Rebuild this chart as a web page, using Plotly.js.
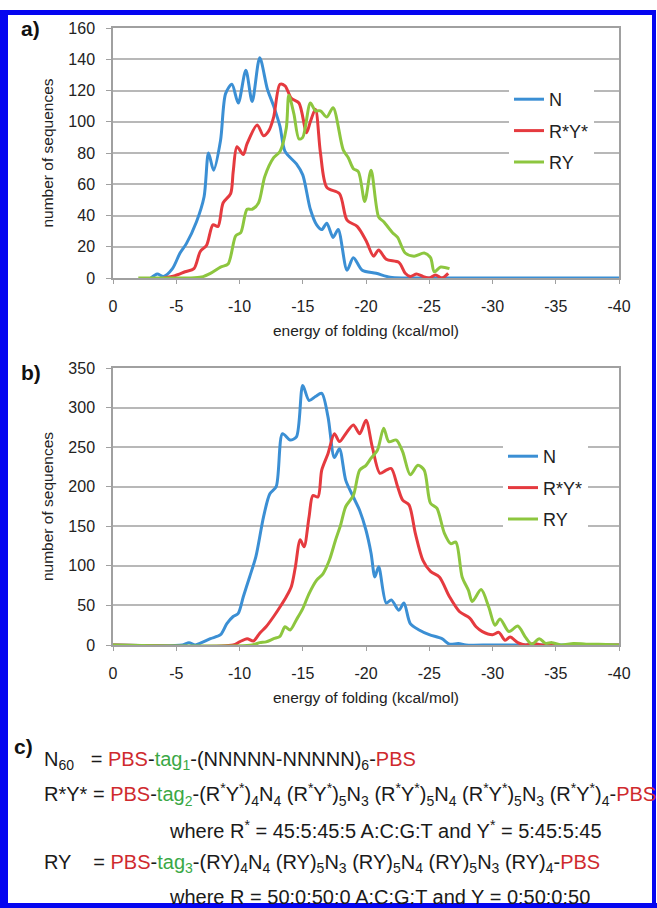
<!DOCTYPE html>
<html><head><meta charset="utf-8">
<script src="https://cdn.plot.ly/plotly-3.0.1.min.js"></script>
<style>html,body{margin:0;padding:0;background:#fff}#chart{width:657px;height:908px}</style>
</head><body><div id="chart"></div>
<script>
// ---- Panel a data (energy kcal/mol, number of sequences) ----
const aN_x = [-3,-3.5,-4,-4.7,-5.3,-5.8,-6.6,-7.2,-7.55,-7.95,-8.5,-8.9,-9.4,-9.9,-10.5,-11,-11.6,-12.2,-12.7,-13.2,-13.6,-14.5,-15,-15.6,-16.1,-16.5,-16.9,-17.4,-17.8,-18.5,-19,-19.7,-20.8,-21.9,-23,-25,-30,-35,-40];
const aN_y = [0,2.5,1,6,16,22,36,52,80,69,88,118,124,112,133,113,141,121,110,97,81,73,66,44,34,31,35,26,31,5,13,5,3,0.5,0,0,0,0,0];
const aR_x = [-4,-4.9,-5.7,-6.4,-6.9,-7.4,-7.9,-8.3,-8.7,-9.3,-9.5,-9.8,-10.3,-10.6,-11.4,-11.9,-12.3,-12.7,-13.2,-13.6,-14.1,-14.7,-15.3,-15.6,-16.0,-16.4,-16.9,-17.9,-18.5,-19.3,-20,-20.6,-21,-21.6,-22.6,-23.1,-23.5,-24,-24.5,-25,-25.5,-26,-26.5];
const aR_y = [0,1.5,4,6,17,21,34,33,48,54,68,84,79,86,98,91,94,103,124,123,115,112,93,100,108,80,58,54,37,33,24,14,18,12,10,3,1,2.5,1,0,2,0,3];
const aG_x = [-2,-4,-6,-7,-7.7,-8.5,-9.1,-9.7,-10.1,-10.6,-11,-11.5,-12,-12.7,-13.2,-13.7,-13.9,-14.3,-14.7,-15,-15.6,-16,-16.4,-16.9,-17.4,-18.2,-18.6,-19,-19.4,-19.9,-20.4,-21,-21.4,-22.1,-22.5,-23.1,-23.8,-24.6,-25.1,-25.4,-25.9,-26.6];
const aG_y = [0,0,0,0.6,3,7,9,27,29,44,44,48,65,77,81,96,117,105,89,90,112,107,107,103,109,82,77,70,68,49,69,39,36,29,26,16,14,16,13,4,7,6];

// ---- Panel b data ----
const bN_x = [0,-5.5,-6,-6.5,-7,-7.7,-8.5,-9,-9.5,-9.9,-10.3,-10.8,-11.3,-11.9,-12.4,-12.9,-13.4,-14,-14.5,-15,-15.5,-16,-16.5,-17,-17.5,-17.9,-18.4,-19,-19.5,-20,-20.4,-20.7,-21,-21.6,-22,-22.6,-23,-23.5,-24.2,-25,-26,-26.6,-27.3,-27.9,-30,-35,-40];
const bN_y = [0,0,3,0,3,8,13,27,36,40,61,86,112,162,191,200,267,259,263,328,309,314,318,288,237,248,208,187,170,145,116,86,99,53,57,44,53,27,19,13,8,1,2,0,0,0,0];
const bR_x = [0,-9.5,-10,-10.6,-11.1,-11.6,-12.1,-12.7,-13.2,-13.7,-14.1,-14.4,-14.8,-15.1,-15.5,-15.8,-16.2,-16.5,-17,-17.5,-17.9,-18.4,-19,-19.5,-20,-20.5,-21.1,-21.6,-22,-22.5,-22.9,-23.4,-23.9,-24.5,-25.1,-25.8,-26.6,-27.4,-28.2,-28.7,-29.2,-30,-30.5,-31,-31.4,-32,-32.6,-33.3,-33.9,-40];
const bR_y = [0,0,4,8,5,15,23,36,48,61,74,97,133,124,162,189,187,221,242,267,257,267,278,267,284,250,217,221,223,200,183,177,141,107,93,86,61,42,34,23,17,13,16,6,10,3,0,2,0,0];
const bG_x = [0,-11,-11.6,-12.1,-12.7,-13.2,-13.6,-14,-14.5,-15,-15.5,-16.1,-16.6,-17.1,-17.6,-18,-18.4,-19,-19.5,-20,-20.4,-20.9,-21.4,-21.8,-22.4,-22.9,-23.5,-24.1,-24.6,-25.1,-25.6,-26.2,-26.7,-27.1,-27.6,-28.1,-28.4,-29.1,-29.7,-30.2,-30.6,-31.3,-32,-32.6,-33.1,-33.7,-34.2,-34.7,-35.4,-36.4,-37.4,-38.4,-40];
const bG_y = [0,0,3,4,8,11,23,19,32,46,65,82,90,107,133,152,175,189,221,227,236,246,274,257,259,244,215,227,221,179,173,141,128,130,86,69,55,70,48,25,33,17,24,10,1,8,2,3,0,2,1,1,0];

const seriesNames = ['N', 'R*Y*', 'RY'];
const colors = ['#3b8fd4', '#e53a3f', '#8dc63f'];
const xTickVals = [0,-5,-10,-15,-20,-25,-30,-35,-40];
const xTickText = ['0','-5','-10','-15','-20','-25','-30','-35','-40'];
const xTitle = 'energy of folding (kcal/mol)';
const yTitle = 'number of sequences';

const W = 657, H = 908;
const px = x => x / W, py = y => 1 - y / H;
const FONT = 'Liberation Sans, Arial, sans-serif';

function mk(x, y, i, xa, ya, leg) {
  return {x, y, type: 'scatter', mode: 'lines', name: seriesNames[i],
    xaxis: xa, yaxis: ya, legend: leg, legendgroup: leg + i,
    line: {color: colors[i], width: 3, shape: 'spline', smoothing: 0.8},
    hoverinfo: 'x+y'};
}
const data = [
  mk(aN_x, aN_y, 0, 'x', 'y', 'legend'),
  mk(aR_x, aR_y, 1, 'x', 'y', 'legend'),
  mk(aG_x, aG_y, 2, 'x', 'y', 'legend'),
  mk(bN_x, bN_y, 0, 'x2', 'y2', 'legend2'),
  mk(bR_x, bR_y, 1, 'x2', 'y2', 'legend2'),
  mk(bG_x, bG_y, 2, 'x2', 'y2', 'legend2')
];

function xax(anchor) {
  return {domain: [px(113), px(619)], range: [0, -40], anchor,
    tickmode: 'array', tickvals: xTickVals, ticktext: xTickText,
    ticks: 'outside', ticklen: 4, tickcolor: '#a0a0a0',
    showline: true, linecolor: '#a0a0a0', linewidth: 1.5, mirror: true,
    showgrid: false, zeroline: false, ticklabelstandoff: 9,
    tickfont: {size: 16, color: '#222', family: FONT},
    title: {text: xTitle, font: {size: 15.5, color: '#222', family: FONT}, standoff: 11}};
}
function yax(anchor, dom, max, dt) {
  return {domain: dom, range: [0, max], dtick: dt, anchor,
    ticks: 'outside', ticklen: 5, tickcolor: '#a0a0a0',
    showline: true, linecolor: '#a0a0a0', linewidth: 1.5, mirror: true,
    showgrid: true, gridcolor: '#b8b8b8', gridwidth: 1.5, zeroline: false,
    ticklabelstandoff: 8,
    tickfont: {size: 16, color: '#222', family: FONT},
    title: {text: yTitle, font: {size: 15.5, color: '#222', family: FONT}, standoff: 11}};
}
function leg(x, y) {
  return {x, y, xanchor: 'left', yanchor: 'top', bgcolor: '#ffffff',
    font: {size: 18, color: '#222', family: FONT}, tracegroupgap: 5,
    itemclick: false};
}

const BLUE = '#0505f0';
const layout = {
  width: W, height: H, margin: {l: 0, r: 0, t: 0, b: 0},
  paper_bgcolor: '#ffffff', plot_bgcolor: '#ffffff', showlegend: true,
  font: {family: FONT},
  xaxis: xax('y'),
  yaxis: yax('x', [py(278), py(28)], 160, 20),
  xaxis2: xax('y2'),
  yaxis2: yax('x2', [py(645), py(368)], 350, 50),
  legend: leg(px(509), py(81)),
  legend2: leg(px(503), py(438)),
  shapes: [
    {type: 'line', xref: 'paper', yref: 'paper', x0: px(4), x1: px(4), y0: py(10), y1: py(908), line: {color: BLUE, width: 8}},
    {type: 'line', xref: 'paper', yref: 'paper', x0: px(0), x1: px(656), y0: py(12.5), y1: py(12.5), line: {color: BLUE, width: 5}},
    {type: 'line', xref: 'paper', yref: 'paper', x0: px(654), x1: px(654), y0: py(10), y1: py(908), line: {color: BLUE, width: 4}},
    {type: 'line', xref: 'paper', yref: 'paper', x0: px(0), x1: px(657), y0: py(905.5), y1: py(905.5), line: {color: BLUE, width: 5}}
  ],
  annotations: []
};

const RED = '#cf2a2e', GRN = '#3aa845';
const panelLabels = [['a)', 30, 29], ['b)', 31, 372], ['c)', 23, 746]];
panelLabels.forEach(([t, x, y]) => layout.annotations.push({
  text: '<b>' + t + '</b>', xref: 'paper', yref: 'paper', x: px(x), y: py(y),
  xanchor: 'center', yanchor: 'middle', showarrow: false,
  font: {size: 21, color: '#111', family: FONT}}));

const CF = 'Liberation Sans, Arial, sans-serif';
const r = s => '<span style="color:' + RED + '">' + s + '</span>';
const g = s => '<span style="color:' + GRN + '">' + s + '</span>';
const st = '<sup>*</sup>';
const rys = '(R' + st + 'Y' + st + ')';
const textLines = [
  ['N<sub>60</sub>   = ' + r('PBS') + '-' + g('tag<sub>1</sub>') + '-(NNNNN-NNNNN)<sub>6</sub>-' + r('PBS'), 42, 760],
  ['R*Y* = ' + r('PBS') + '-' + g('tag<sub>2</sub>') + '-' + rys + '<sub>4</sub>N<sub>4</sub> ' + rys + '<sub>5</sub>N<sub>3</sub> ' + rys + '<sub>5</sub>N<sub>4</sub> ' + rys + '<sub>5</sub>N<sub>3</sub> ' + rys + '<sub>4</sub>-' + r('PBS'), 42, 794],
  ['where R' + st + ' = 45:5:45:5 A:C:G:T and Y' + st + ' = 5:45:5:45', 167, 829],
  ['RY    = ' + r('PBS') + '-' + g('tag<sub>3</sub>') + '-(RY)<sub>4</sub>N<sub>4</sub> (RY)<sub>5</sub>N<sub>3</sub> (RY)<sub>5</sub>N<sub>4</sub> (RY)<sub>5</sub>N<sub>3</sub> (RY)<sub>4</sub>-' + r('PBS'), 42, 863],
  ['where R = 50:0:50:0 A:C:G:T and Y = 0:50:0:50', 167, 897]
];
textLines.forEach(([t, x, y]) => layout.annotations.push({
  text: t, xref: 'paper', yref: 'paper', x: px(x), y: py(y),
  xanchor: 'left', yanchor: 'middle', showarrow: false,
  font: {size: 20, color: '#1a1a1a', family: CF}}));

Plotly.newPlot('chart', data, layout, {displayModeBar: false});
</script></body></html>
